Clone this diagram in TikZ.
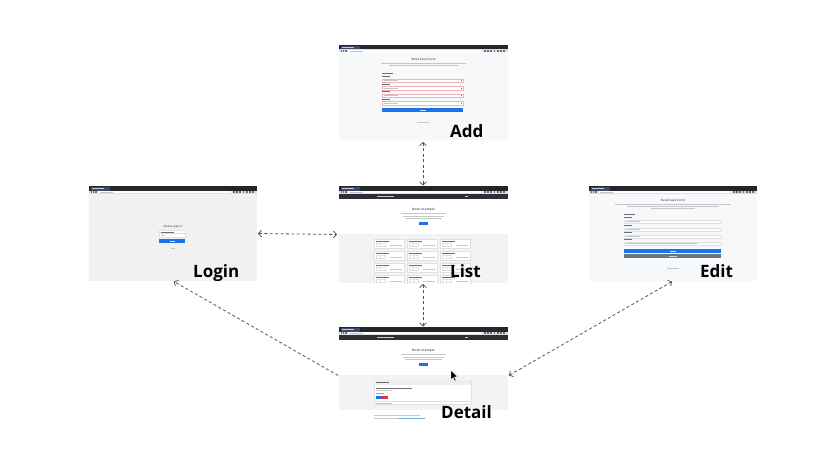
\documentclass[tikz,border=0pt]{standalone}
\usepackage{fontspec}
\setmainfont{Open Sans}
\usetikzlibrary{arrows.meta}

\definecolor{chromedark}{HTML}{24262B}
\definecolor{tabblue}{HTML}{3B4A6B}
\definecolor{toolbar}{HTML}{DDDFE2}
\definecolor{navdark}{HTML}{2C3036}
\definecolor{pagebg}{HTML}{F7F8F9}
\definecolor{loginbg}{HTML}{F1F1F2}
\definecolor{graybg}{HTML}{F2F3F5}
\definecolor{bsblue}{HTML}{1A73E8}
\definecolor{bsred}{HTML}{DC3545}
\definecolor{bsgray}{HTML}{6C757D}
\definecolor{textdark}{HTML}{6A6F76}
\definecolor{textlight}{HTML}{C3C6CA}
\definecolor{cardline}{HTML}{DEE1E4}
\definecolor{invalid}{HTML}{EFB3BA}
\definecolor{linkgray}{HTML}{555555}

\tikzset{
  shot/.style={fill=pagebg, draw=none, inner sep=0pt, outer sep=0pt, anchor=north west},
  pagelabel/.style={font=\bfseries\fontsize{17}{20}\selectfont, anchor=base west, inner sep=0pt},
  tinytext/.style={font=\fontsize{2.4}{2.8}\selectfont, text=textdark, inner sep=0pt},
  link/.style={draw=linkgray, line width=0.8pt, dash pattern=on 3pt off 2.4pt},
  both/.style={link, {Straight Barb[length=3pt,width=6.5pt]}-{Straight Barb[length=3pt,width=6.5pt]}},
  tohead/.style={link, -{Straight Barb[length=3pt,width=6.5pt]}},
}

% browser tab strip and toolbar across a screenshot of width #1
\newcommand\browserchrome[1]{%
  \fill[chromedark] (0,0) rectangle (#1,4.5);
  \fill[tabblue] (1.5,0.8) rectangle (21,4.5);
  \fill[textlight] (3,2.3) rectangle (15,2.9);
  \fill[toolbar] (0,4.5) rectangle (#1,7.5);
  \fill[white] (9,5.1) rectangle ({#1-26},6.9);
  \foreach \i in {0,1,2} {\fill[textdark] ({1.5+\i*2.4},5.4) rectangle ++(1.3,1.2);}
  \fill[textlight] (11,5.7) rectangle (24,6.3);
  \foreach \i in {0,...,6} {\fill[textdark] ({#1-24+\i*3.2},5.3) rectangle ++(1.8,1.4);}
}
% one line of placeholder body text
\newcommand\bodyline[3]{\fill[textlight] (#1,#2) rectangle ++(#3,0.7);}
% bookshelf hero block shared by list and detail pages
\newcommand\herobox{%
  \fill[navdark] (0,7.5) rectangle (169,13);
  \fill[textlight] (38,9.9) rectangle ++(17,0.8);
  \fill[textlight] (126,9.9) rectangle ++(3,0.8);
  \fill[white] (0,13) rectangle (169,48);
  \node[tinytext, font=\bfseries\fontsize{3.2}{3.6}\selectfont] at (84.5,23.5) {Book example};
  \bodyline{62}{27.3}{45}
  \bodyline{64}{29.6}{41}
  \bodyline{66}{31.9}{37}
  \fill[bsblue] (80,35.5) rectangle (89,39.2);
}
% one card of the book list
\newcommand\bookcard[2]{%
  \filldraw[fill=white, draw=cardline, line width=0.2pt] (#1,#2) rectangle ++(30,9);
  \fill[textdark] ({#1+2},{#2+1.8}) rectangle ++(13,0.7);
  \draw[cardline, line width=0.25pt] ({#1+2},{#2+4.6}) rectangle ++(4.6,2.6)
        ({#1+6.6},{#2+4.6}) rectangle ++(4.6,2.6);
  \fill[textlight] ({#1+16},{#2+5.6}) rectangle ++(11.5,0.6);
}
% one labelled input of a form
\newcommand\forminput[4]{%
  \fill[textdark] (#1,{#2-2.6}) rectangle ++(8,0.6);
  \filldraw[fill=white, draw=#4, line width=0.25pt] (#1,#2) rectangle ++(#3,3.2);
  \fill[textlight] ({#1+1.5},{#2+1.3}) rectangle ++(14,0.6);
}

\begin{document}
\begin{tikzpicture}[x=1pt, y=-1pt]
\useasboundingbox (0,0) rectangle (823,460);
\fill[white] (0,0) rectangle (823,460);

% ---------- screenshots ----------
\node[shot, minimum width=169pt, minimum height=95pt] (add) at (339,45) {};
\node[shot, minimum width=169pt, minimum height=97pt] (list) at (339,186) {};
\node[shot, minimum width=169pt, minimum height=98pt, fill=white] (detail) at (339,327) {};
\node[shot, minimum width=168pt, minimum height=95pt, fill=loginbg] (login) at (89,186) {};
\node[shot, minimum width=168pt, minimum height=95pt] (edit) at (589,186) {};

% Add page: book save form with invalid fields
\begin{scope}[shift={(339,45)}]
  \browserchrome{169}
  \node[tinytext, font=\bfseries\fontsize{3}{3.4}\selectfont] at (84.5,14.5) {Book Save Form};
  \bodyline{42}{18}{85}
  \bodyline{50}{20.5}{69}
  \fill[textdark] (43,28.3) rectangle ++(11,0.8);
  \foreach \y in {34,41.5,49,56.5} {
    \forminput{43}{\y}{81}{invalid}
    \fill[bsred] (121.5,{\y+1.2}) rectangle ++(0.9,0.9);
  }
  \fill[bsblue] (43,63) rectangle (124,67.5);
  \fill[white!80!bsblue] (81,64.9) rectangle ++(6,0.6);
  \bodyline{78}{77}{12}
\end{scope}

% List page: hero and grid of book cards
\begin{scope}[shift={(339,186)}]
  \clip (0,0) rectangle (169,97);
  \browserchrome{169}
  \herobox
  \fill[graybg] (0,48) rectangle (169,97);
  \foreach \cx in {35,68,101} {
    \foreach \cy in {53,65,77,89} {
      \bookcard{\cx}{\cy}
    }
  }
\end{scope}

% Detail page: hero, book card and footer note
\begin{scope}[shift={(339,327)}]
  \browserchrome{169}
  \herobox
  \fill[graybg] (0,48) rectangle (169,83);
  \filldraw[fill=white, draw=cardline, line width=0.25pt] (35,53) rectangle (132,77);
  \fill[cardline!60!white] (35,53) rectangle (132,57.5);
  \fill[textdark] (37,54.9) rectangle ++(13,0.7);
  \fill[textdark] (37,60.5) rectangle ++(36,0.8);
  \bodyline{37}{63.3}{16}
  \fill[bsblue!60!white] (37,66.3) rectangle ++(8,0.7);
  \fill[bsblue] (37,69.3) rectangle (42.5,72.3);
  \fill[bsred] (42.5,69.3) rectangle (48.5,72.3);
  \draw[cardline, line width=0.25pt] (35,74.5) -- (132,74.5);
  \bodyline{37}{75.6}{16}
  \bodyline{35}{88}{46}
  \bodyline{35}{91}{24}
  \fill[bsblue!60!white] (59,91) rectangle ++(27,0.7);
  % mouse pointer
  \filldraw[fill=black, draw=white, line width=0.3pt]
    (112,43.5) -- (112,52.5) -- (114.2,50.6) -- (115.8,54) -- (117,53.4)
    -- (115.4,50) -- (118.3,49.8) -- cycle;
\end{scope}

% Login page: sign-in box
\begin{scope}[shift={(89,186)}]
  \browserchrome{168}
  \node[tinytext, font=\bfseries\fontsize{2.8}{3.2}\selectfont] at (84,41) {Please sign in};
  \filldraw[fill=white, draw=cardline, line width=0.25pt] (70,44) rectangle (96,47.6);
  \filldraw[fill=white, draw=cardline, line width=0.25pt] (70,47.6) rectangle (96,51.2);
  \fill[textdark] (71.5,45.5) rectangle ++(13,0.6);
  \bodyline{71.5}{49.1}{4}
  \fill[bsblue] (70,53) rectangle (96,56.6);
  \fill[white!80!bsblue] (80.5,54.5) rectangle ++(5,0.6);
  \bodyline{82}{62}{4}
\end{scope}

% Edit page: book save form with filled fields
\begin{scope}[shift={(589,186)}]
  \browserchrome{168}
  \node[tinytext, font=\bfseries\fontsize{3}{3.4}\selectfont] at (84,14) {Book Save Form};
  \bodyline{26}{17.6}{116}
  \bodyline{38}{19.9}{92}
  \bodyline{62}{22.2}{44}
  \fill[textdark] (35,28) rectangle ++(11,0.8);
  \foreach \y in {34,41.7,49,56} {
    \forminput{35}{\y}{97}{cardline}
  }
  \bodyline{36.5}{57.3}{72}
  \fill[bsblue] (35,63.3) rectangle (132,66.9);
  \fill[bsgray] (35,67.9) rectangle (132,71.9);
  \fill[white!80!bsblue] (81,64.8) rectangle ++(6,0.6);
  \fill[white!70!bsgray] (80,69.6) rectangle ++(8,0.6);
  \bodyline{78}{82}{12}
\end{scope}

% ---------- page names ----------
\node[pagelabel] (addlabel) at (450,137) {Add};
\node[pagelabel] (listlabel) at (450,277) {List};
\node[pagelabel] (loginlabel) at (193,277) {Login};
\node[pagelabel] (editlabel) at (700,277) {Edit};
\node[pagelabel] (detaillabel) at (441,418) {Detail};

% ---------- navigation ----------
\draw[both, shorten <=2pt, shorten >=0.5pt] ([xshift=-0.5pt]add.south) -- ([xshift=-0.5pt]list.north);
\draw[both, shorten <=1pt, shorten >=0.5pt] ([xshift=-0.5pt]list.south) -- ([xshift=-0.5pt]detail.north);
\draw[both, shorten <=1pt, shorten >=2pt] (login.east) -- (list.west);
\draw[tohead, shorten <=1pt, shorten >=1pt] (detail.west) -- (login.south);
\draw[both, shorten <=1pt, shorten >=1pt] (detail.east) -- (edit.south);
\end{tikzpicture}
\end{document}
